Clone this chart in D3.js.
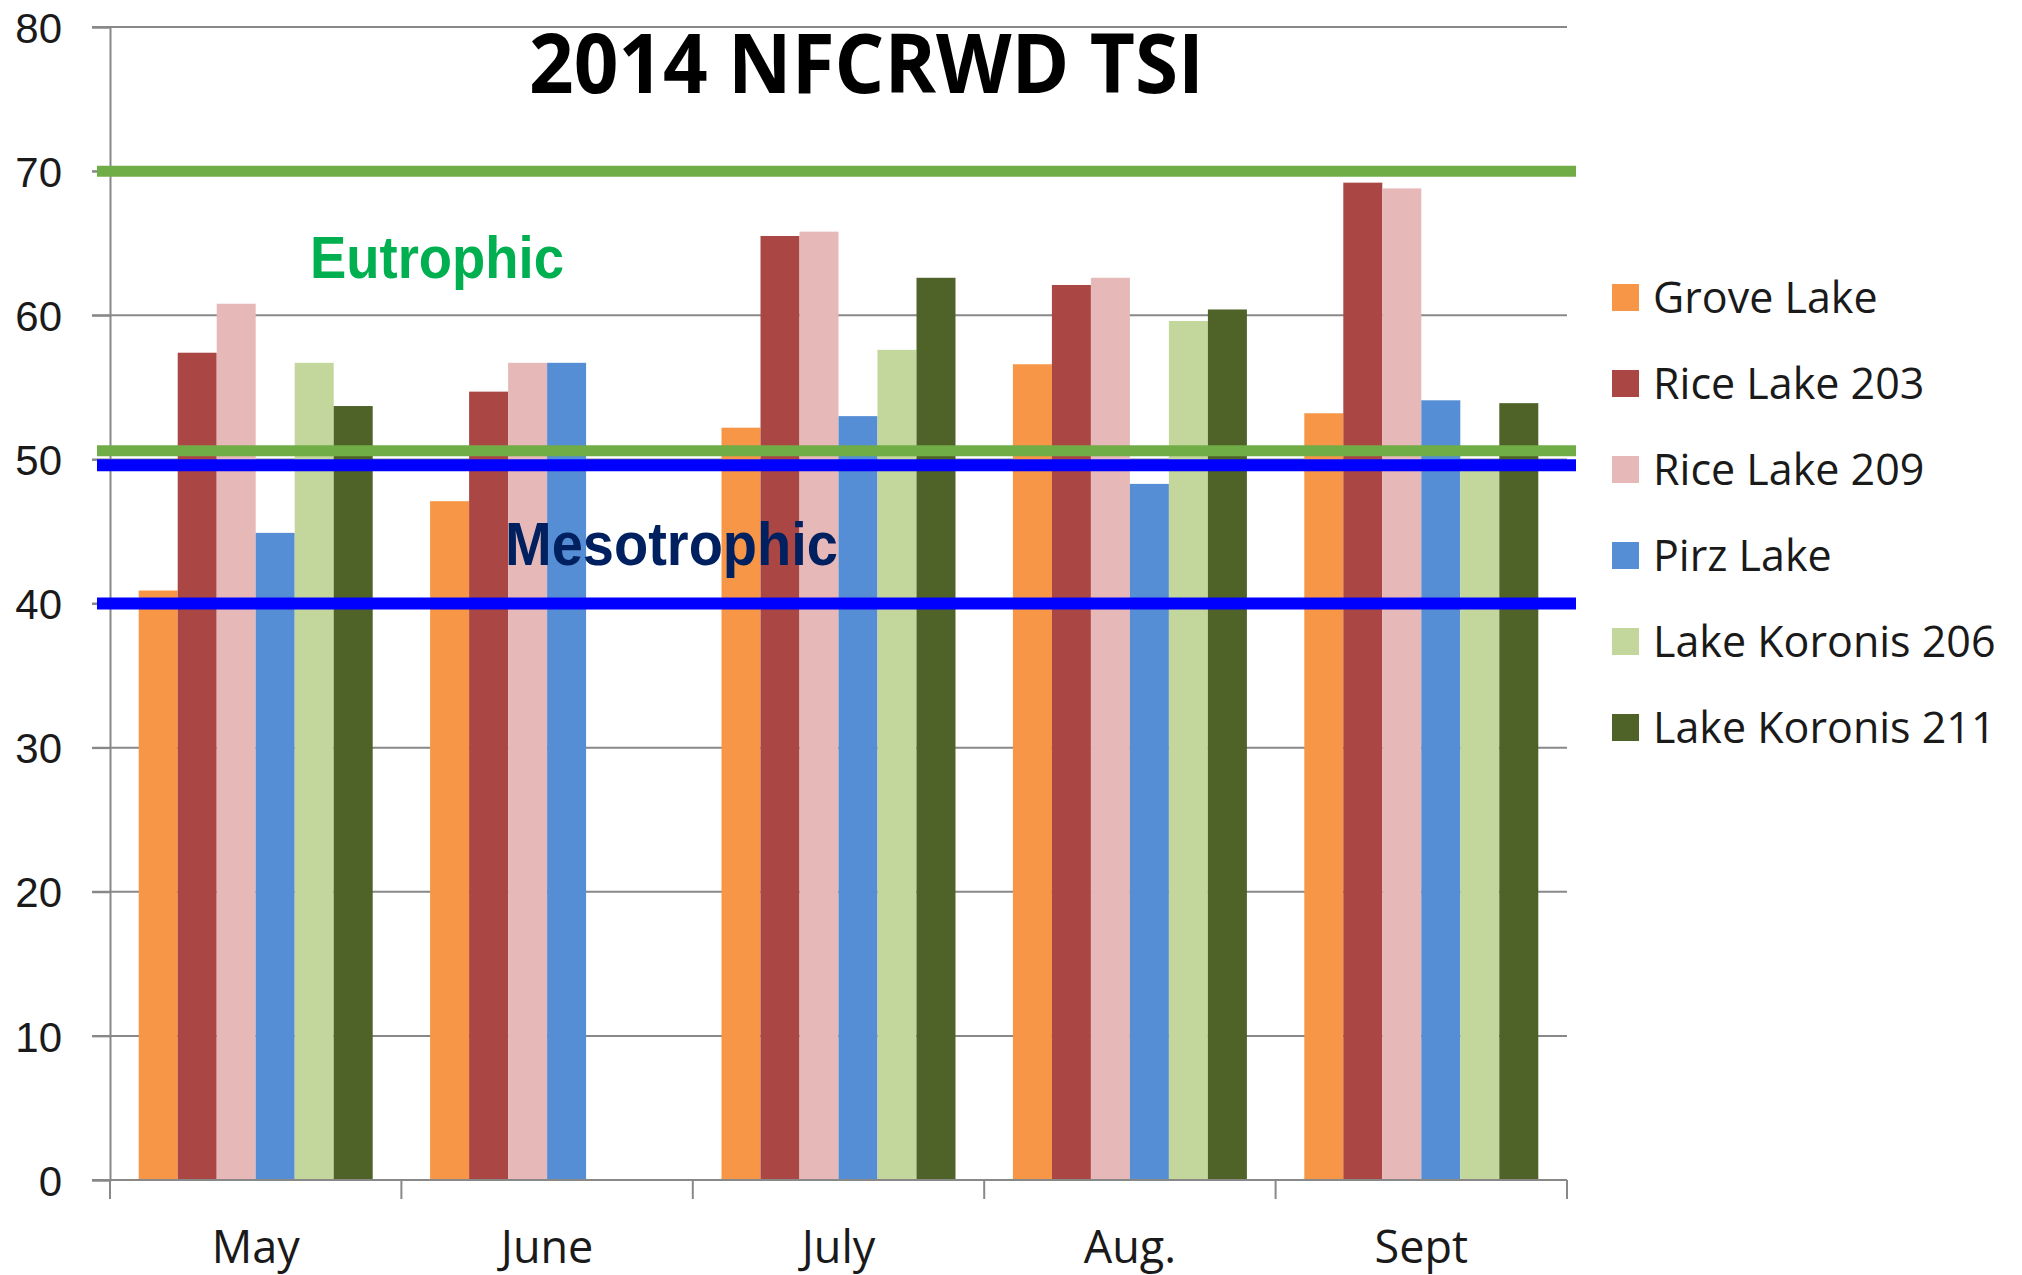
<!DOCTYPE html>
<html>
<head>
<meta charset="utf-8">
<script src="https://cdn.jsdelivr.net/npm/d3@7"></script>
<style>
  html, body { margin: 0; padding: 0; background: #ffffff; }
  svg { display: block; }
</style>
</head>
<body>
<svg id="chart" width="2022" height="1275"></svg>
<script>
// ---- data ----
const title = "2014 NFCRWD TSI";
const categories = ["May", "June", "July", "Aug.", "Sept"];
const seriesNames = ["Grove Lake", "Rice Lake 203", "Rice Lake 209", "Pirz Lake", "Lake Koronis 206", "Lake Koronis 211"];
const groveLake      = [40.9, 47.1, 52.2, 56.6, 53.2];
const riceLake203    = [57.4, 54.7, 65.5, 62.1, 69.2];
const riceLake209    = [60.8, 56.7, 65.8, 62.6, 68.8];
const pirzLake       = [44.9, 56.7, 53.0, 48.3, 54.1];
const lakeKoronis206 = [56.7, null, 57.6, 59.6, 49.7];
const lakeKoronis211 = [53.7, null, 62.6, 60.4, 53.9];
const seriesValues = [groveLake, riceLake203, riceLake209, pirzLake, lakeKoronis206, lakeKoronis211];
const seriesColors = ["#F79646", "#AA4644", "#E6B9B8", "#558ED5", "#C3D69B", "#4F6228"];
const yTicks = [0, 10, 20, 30, 40, 50, 60, 70, 80];
const thresholdValues = [70, 50.6, 49.6, 40];
const thresholdColors = ["#70AD47", "#70AD47", "#0000FF", "#0000FF"];
const zoneLabels = ["Eutrophic", "Mesotrophic"];
const zoneColors = ["#00B050", "#002060"];

// ---- layout ----
const svg = d3.select("#chart");
const plotLeft = 110, plotRight = 1567, plotTop = 27, plotBottom = 1180;
const gridColor = "#888888";

const x0 = d3.scaleBand().domain(categories).range([plotLeft, plotRight]).paddingInner(0.197).paddingOuter(0.0985);
const x1 = d3.scaleBand().domain(seriesNames).range([0, x0.bandwidth()]).padding(0);
const y = d3.scaleLinear().domain([0, 80]).range([plotBottom, plotTop]);

// gridlines (with outward ticks)
svg.append("g").selectAll("line").data(yTicks.filter(d => d !== 0)).join("line")
  .attr("x1", plotLeft - 18).attr("x2", plotRight)
  .attr("y1", d => y(d)).attr("y2", d => y(d))
  .attr("stroke", gridColor).attr("stroke-width", 2);

// y axis
const yAxis = d3.axisLeft(y).tickValues(yTicks).tickSize(18).tickPadding(30).tickFormat(d3.format("d"));
const yg = svg.append("g").attr("transform", `translate(${plotLeft},0)`).call(yAxis);
yg.select(".domain").attr("stroke", gridColor).attr("stroke-width", 2);
yg.selectAll(".tick line").attr("stroke", gridColor).attr("stroke-width", 2);
yg.selectAll(".tick text").attr("font-family", "'Liberation Sans', Arial, sans-serif").attr("font-size", 42).attr("fill", "#1a1a1a").attr("dy", "0.36em");

// bars
const rows = categories.map((c, i) => ({ cat: c, vals: seriesNames.map((s, j) => ({ s, v: seriesValues[j][i], c: seriesColors[j] })) }));
svg.append("g").selectAll("g").data(rows).join("g")
  .attr("transform", d => `translate(${x0(d.cat)},0)`)
  .selectAll("rect").data(d => d.vals.filter(e => e.v !== null)).join("rect")
  .attr("x", d => x1(d.s)).attr("width", x1.bandwidth())
  .attr("y", d => y(d.v)).attr("height", d => y(0) - y(d.v))
  .attr("fill", d => d.c);

// x axis
const boundaries = d3.range(categories.length + 1).map(i => plotLeft + i * x0.step());
const xg = svg.append("g");
xg.append("line").attr("x1", plotLeft - 18).attr("x2", plotRight).attr("y1", y(0)).attr("y2", y(0))
  .attr("stroke", gridColor).attr("stroke-width", 2);
xg.selectAll("line.tk").data(boundaries).join("line").attr("class", "tk")
  .attr("x1", d => d).attr("x2", d => d).attr("y1", y(0)).attr("y2", y(0) + 19)
  .attr("stroke", gridColor).attr("stroke-width", 2);
xg.selectAll("text").data(categories).join("text")
  .attr("x", d => x0(d) + x0.bandwidth() / 2).attr("y", 1263)
  .attr("text-anchor", "middle")
  .attr("font-family", "'Open Sans', sans-serif").attr("font-size", 45).attr("fill", "#1a1a1a")
  .text(d => d);

// threshold lines
svg.append("g").selectAll("line").data(thresholdValues).join("line")
  .attr("x1", 97).attr("x2", 1576)
  .attr("y1", d => y(d)).attr("y2", d => y(d))
  .attr("stroke", (d, i) => thresholdColors[i])
  .attr("stroke-width", (d, i) => i < 2 ? 11 : 12);

// zone labels
svg.append("text").attr("x", 310).attr("y", 278)
  .attr("font-family", "'Liberation Sans', Arial, sans-serif").attr("font-weight", "bold").attr("font-size", 60)
  .attr("fill", zoneColors[0]).attr("textLength", 254).attr("lengthAdjust", "spacingAndGlyphs").text(zoneLabels[0]);
svg.append("text").attr("x", 505).attr("y", 565)
  .attr("font-family", "'Liberation Sans', Arial, sans-serif").attr("font-weight", "bold").attr("font-size", 62)
  .attr("fill", zoneColors[1]).attr("textLength", 333).attr("lengthAdjust", "spacingAndGlyphs").text(zoneLabels[1]);

// title
svg.append("text").attr("x", 529).attr("y", 93)
  .attr("font-family", "'Open Sans', sans-serif").attr("font-weight", "bold").attr("font-size", 82)
  .attr("fill", "#000").attr("textLength", 675).attr("lengthAdjust", "spacingAndGlyphs")
  .text(title);

// legend
const lg = svg.append("g").selectAll("g").data(seriesNames).join("g")
  .attr("transform", (d, i) => `translate(1612, ${313 + i * 86})`);
lg.append("rect").attr("x", 0).attr("y", -29).attr("width", 27).attr("height", 27)
  .attr("fill", (d, i) => seriesColors[i]);
lg.append("text").attr("x", 41).attr("y", 0)
  .attr("font-family", "'Open Sans', sans-serif").attr("font-size", 43).attr("fill", "#1a1a1a")
  .text(d => d);
</script>
</body>
</html>
